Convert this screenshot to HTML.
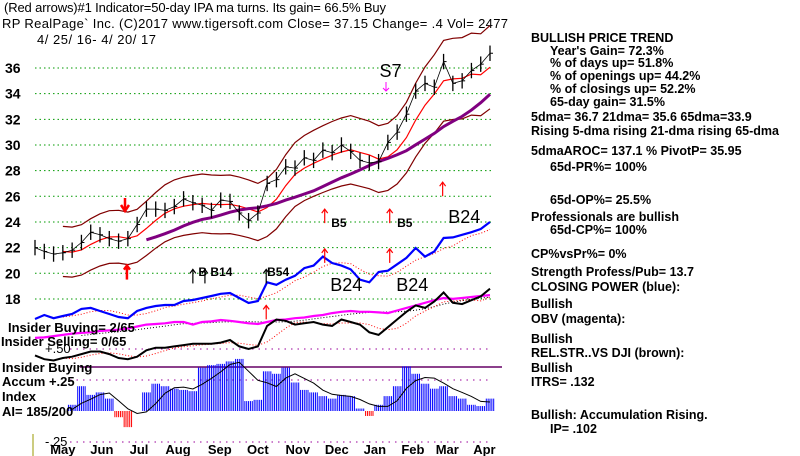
<!DOCTYPE html>
<html><head><meta charset="utf-8"><style>
html,body{margin:0;padding:0;background:#fff;}
svg{display:block;font-family:"Liberation Sans",sans-serif;}
.rt{font-size:12.5px;font-weight:bold;fill:#000;}
</style></head><body>
<svg id="chart" width="800" height="456" viewBox="0 0 800 456" xmlns="http://www.w3.org/2000/svg">
<g id="hdr" font-size="13" fill="#000">
<text x="4" y="12" textLength="382">(Red arrows)#1 Indicator=50-day IPA ma turns. Its gain= 66.5% Buy</text>
<text x="2" y="28" textLength="506">RP   RealPage` Inc.   (C)2017 www.tigersoft.com     Close=  37.15  Change= .4 Vol= 2477</text>
<text x="37" y="44" textLength="119">4/ 25/ 16- 4/ 20/ 17</text>
</g>
<g id="grid"></g>
<g id="series"></g>
<g id="labels" font-size="13" font-weight="bold">
<text x="8" y="332">Insider Buying= 2/65</text>
<text x="1" y="346">Insider Selling= 0/65</text>
<text x="45" y="353" font-weight="normal">+.50</text>
<text x="2" y="372">Insider Buying</text>
<text x="2" y="386">Accum +.25</text>
<text x="2" y="401">Index</text>
<text x="2" y="416">AI= 185/200</text>
<text x="45" y="446" font-weight="normal">-.25</text>
</g>
<g id="right">
<text class="rt" x="531" y="42">BULLISH PRICE TREND</text>
<text class="rt" x="550" y="55">Year's Gain= 72.3%</text>
<text class="rt" x="550" y="67">% of days up= 51.8%</text>
<text class="rt" x="550" y="80">% of openings up= 44.2%</text>
<text class="rt" x="550" y="93">% of closings up= 52.2%</text>
<text class="rt" x="550" y="106">65-day gain= 31.5%</text>
<text class="rt" x="531" y="121">5dma= 36.7 21dma= 35.6 65dma=33.9</text>
<text class="rt" x="531" y="135">Rising 5-dma rising 21-dma rising 65-dma</text>
<text class="rt" x="531" y="155">5dmaAROC= 137.1 %  PivotP= 35.95</text>
<text class="rt" x="550" y="171">65d-PR%= 100%</text>
<text class="rt" x="550" y="204">65d-OP%= 25.5%</text>
<text class="rt" x="531" y="221">Professionals are bullish</text>
<text class="rt" x="550" y="234">65d-CP%= 100%</text>
<text class="rt" x="531" y="258">CP%vsPr%=  0%</text>
<text class="rt" x="531" y="276">Strength Profess/Pub= 13.7</text>
<text class="rt" x="531" y="291">CLOSING POWER (blue):</text>
<text class="rt" x="531" y="308">Bullish</text>
<text class="rt" x="531" y="323">OBV (magenta):</text>
<text class="rt" x="531" y="343">Bullish</text>
<text class="rt" x="531" y="357">REL.STR..VS DJI (brown):</text>
<text class="rt" x="531" y="372">Bullish</text>
<text class="rt" x="531" y="386">ITRS= .132</text>
<text class="rt" x="531" y="419">Bullish: Accumulation Rising.</text>
<text class="rt" x="550" y="433">IP=  .102</text>
</g>
</svg>
<script>
const months=["May","Jun","Jul","Aug","Sep","Oct","Nov","Dec","Jan","Feb","Mar","Apr"];
const monthIdx=[3.0,7.2,11.2,15.4,19.9,24.0,28.3,32.5,36.6,40.7,44.4,48.4];
const priceTicks=[36,34,32,30,28,26,24,22,20,18];
const closes=[22,21.7,21.5,21.6,21.8,22.4,23.2,23,22.7,22.5,22.7,23.8,25,25,24.9,25.2,25.8,25.5,25.3,24.9,25.7,25.6,24.7,24.1,24.7,27,27.3,28.3,28.2,29,28.8,29.6,29.4,30,29.5,28.8,28.6,28.7,30.2,31,32.4,34.2,34.8,34.5,36.5,34.8,35,35.8,36.3,37.15];
const closingPower=[16.44,16.75,16.5,16.67,16.83,17.22,17.3,17.06,16.83,16.59,16.5,17.06,17.3,17.45,17.53,17.53,17.84,17.92,18.07,18.23,18.4,18.46,18.07,17.68,17.84,19.3,19.1,19.5,19.8,20.4,20.6,21.3,20.8,20.6,20.3,19.5,19.3,20.1,20.2,20.7,21.2,21.97,21.3,21.7,22.75,22.8,23,23.2,23.45,24.0];
const obv=[14.96,15.0,15.1,15.2,15.3,15.35,15.4,15.5,15.55,15.6,15.7,15.85,16.0,16.05,16.1,16.2,16.2,16.0,16.2,16.25,16.36,16.3,16.2,16.1,16.05,16.2,16.36,16.4,16.5,16.55,16.67,16.75,16.9,17.0,17.06,17.0,17.0,16.95,16.9,17.1,17.3,17.5,17.7,17.9,18.07,18.0,18.07,18.15,18.23,18.3];
const relStrength=[13.6,13.3,13.2,13.4,13.5,13.7,13.9,13.9,13.7,13.4,13.3,13.5,14.0,14.2,14.2,14.3,14.4,14.5,14.5,14.5,14.6,14.8,14.3,14.1,14.3,15.9,16.4,16.3,16.0,16.1,16.2,16.0,15.9,16.4,16.2,16.0,15.4,15.2,15.8,16.4,17.0,17.5,17.3,17.8,18.5,17.7,17.6,17.9,18.2,18.8];
const accumIndex=[0,0,0,0,0.05,0.2,0.13,0.15,0.1,-0.05,-0.13,0.0,0.15,0.22,0.2,0.18,0.17,0.16,0.35,0.37,0.38,0.4,0.42,0.08,0.09,0.32,0.3,0.35,0.23,0.17,0.15,0.12,0.1,0.13,0.12,0.02,-0.04,0.05,0.12,0.2,0.36,0.3,0.22,0.18,0.2,0.12,0.1,0.05,0.04,0.1];
const signalLabels=["S7","B5","B5","B24","B24","B24","B B14","B54"];
const sigIdx=[37.1,31.9,39.0,44.5,31.8,38.9,17.6,25.0];
const sigVal=[35.3,23.6,23.6,23.9,18.6,18.6,19.8,19.8];
const NS="http://www.w3.org/2000/svg";
const X=i=>35+i*455/49;
const Y=p=>68+(36-p)*12.83;
const AIY=v=>411-v*124;
function el(tag,attrs,parent){const e=document.createElementNS(NS,tag);for(const k in attrs)e.setAttribute(k,attrs[k]);parent.appendChild(e);return e;}
function ma(arr,n){return arr.map((v,i)=>{if(i<n-1)return null;let s=0;for(let j=i-n+1;j<=i;j++)s+=arr[j];return s/n;});}
function poly(vals,yf,attrs,name){const pts=vals.map((v,i)=>v==null?null:X(i).toFixed(1)+","+yf(v).toFixed(1)).filter(p=>p).join(" ");const e=el("polyline",Object.assign({points:pts,fill:"none"},attrs),document.getElementById("series"));


return e;}
const grid=document.getElementById("grid");
priceTicks.forEach(p=>{
const l=el("line",{x1:35,x2:492,y1:Y(p),y2:Y(p),stroke:"#009900","stroke-dasharray":"1.5,3"},grid);


const t=el("text",{x:5,y:Y(p)+5,"font-size":"14","font-weight":"bold"},grid);t.textContent=p;


});
[0.5,0.25,-0.25].forEach(v=>{const l=el("line",{x1:70,x2:492,y1:AIY(v),y2:AIY(v),stroke:"#990099","stroke-dasharray":"1.5,5"},grid);

});
const hl=el("line",{x1:80,x2:502,y1:367,y2:367,stroke:"#660066","stroke-width":1.5},grid);


const vl=el("line",{x1:33,x2:33,y1:434,y2:456,stroke:"#999900"},grid);


months.forEach((m,k)=>{const t=el("text",{x:X(monthIdx[k]),y:454,"font-size":"13","font-weight":"bold","text-anchor":"middle"},grid);t.textContent=m;

});
const s=document.getElementById("series");
accumIndex.forEach((v,i)=>{if(v===0&&i<4)return;for(let k=-2;k<=2;k++){const x=X(i)+k*1.85;const b=el("line",{x1:x,x2:x,y1:AIY(0),y2:AIY(v),stroke:v<0?"#ff0000":"#0000ff","stroke-width":1},s);

}});
const aiMa=ma(accumIndex,4);
poly(aiMa.map((v,i)=>i<4?null:v),AIY,{stroke:"#000","stroke-width":1},"ai-moving-average");
const ma21=ma(closes,4),ma65=ma(closes,13);
poly(ma21.map(v=>v==null?null:v*1.09),Y,{stroke:"#800000","stroke-width":1.2},"upper-band");
poly(ma21.map(v=>v==null?null:v*0.91),Y,{stroke:"#800000","stroke-width":1.2},"lower-band");
poly(ma21,Y,{stroke:"#ff0000","stroke-width":1.2},"ma-21");
poly(ma65,Y,{stroke:"#800080","stroke-width":3},"ma-65");
poly(ma(closingPower,4),Y,{stroke:"#ff0000","stroke-dasharray":"1,2"},"closing-power-ma");
poly(closingPower,Y,{stroke:"#0000ff","stroke-width":2.2},"closing-power-line");
poly(ma(obv,6),Y,{stroke:"#000","stroke-dasharray":"1,2"},"obv-ma");
poly(obv,Y,{stroke:"#ff00ff","stroke-width":2.2},"obv-line");
poly(ma(relStrength,4),Y,{stroke:"#ff0000","stroke-dasharray":"1,2"},"rel-strength-ma");
poly(relStrength,Y,{stroke:"#000","stroke-width":2},"rel-strength-line");
poly(closes,Y,{stroke:"#000","stroke-width":0.8},"price-path");
closes.forEach((c,i)=>{const x=X(i);const b=el("line",{x1:x,x2:x,y1:Y(c+0.6),y2:Y(c-0.6),stroke:"#000","stroke-width":1.3},s);


const t=el("line",{x1:x,x2:x+3,y1:Y(c),y2:Y(c),stroke:"#000"},s);

});
signalLabels.forEach((lab,k)=>{const big=lab==="B24"||lab==="S7";const t=el("text",{x:X(sigIdx[k]),y:Y(sigVal[k]),"font-size":big?"18":"12","font-weight":big?"normal":"bold",fill:"#000"},s);t.textContent=lab;

});
const arrowIdx=[31.2,38.2,43.9,31.2,38.2,24.9,9.9,17.0,18.3,24.9];
const arrowVal=[25.0,25.0,27.1,21.9,21.9,17.5,20.6,20.3,20.3,20.3];
const arrowColor=["#ff0000","#ff0000","#ff0000","#ff0000","#ff0000","#ff0000","#ff0000","#000","#000","#000"];
arrowIdx.forEach((ai,k)=>{const x=X(ai),y=Y(arrowVal[k]);const g=el("g",{stroke:arrowColor[k],"stroke-width":k===6?2.5:1.2,fill:"none"},s);


el("line",{x1:x,x2:x,y1:y,y2:y+14},g);el("polyline",{points:(x-3)+","+(y+4)+" "+x+","+y+" "+(x+3)+","+(y+4)},g);});
const dg=el("g",{stroke:"#ff0000","stroke-width":2.5,fill:"none"},s);


el("line",{x1:125,x2:125,y1:198,y2:210},dg);el("polyline",{points:"121,205 125,211 129,205"},dg);
const sg=el("g",{stroke:"#ff00ff","stroke-width":1,fill:"none"},s);


el("line",{x1:386,x2:386,y1:82,y2:91},sg);el("polyline",{points:"383,88 386,91 389,88"},sg);
</script>
</body></html>
